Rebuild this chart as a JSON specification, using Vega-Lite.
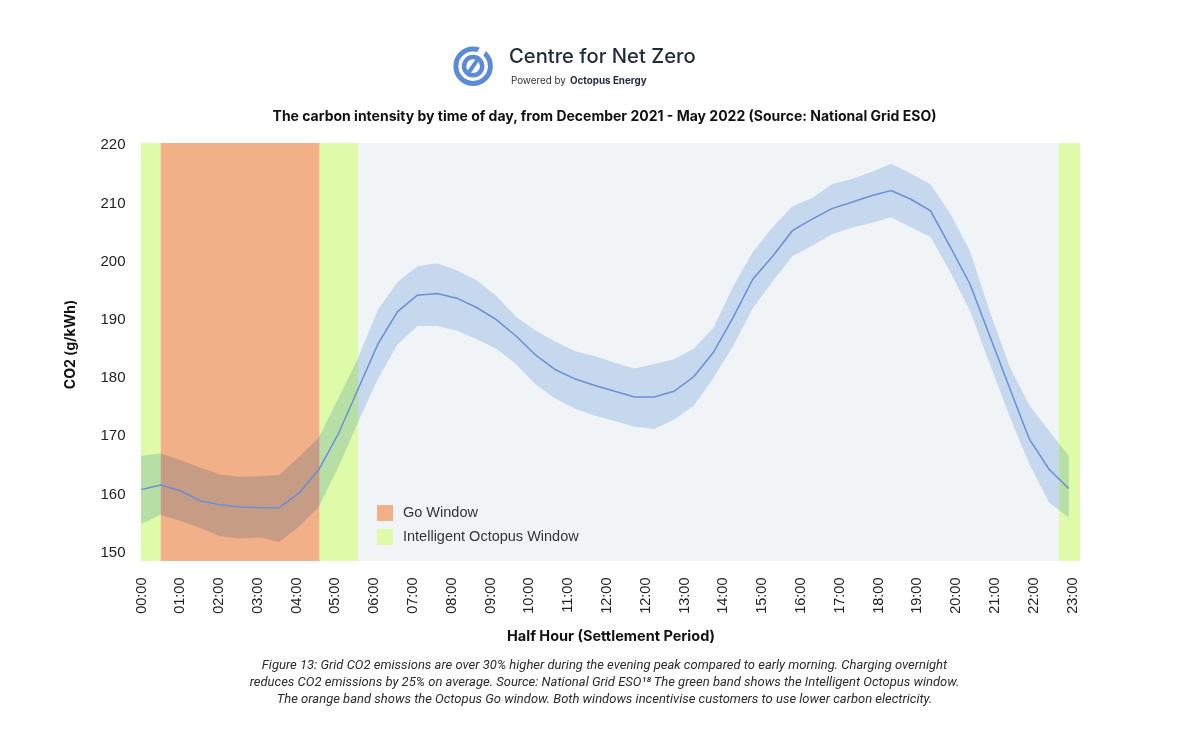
{
  "$schema": "https://vega.github.io/schema/vega-lite/v6.json",
  "background": "white",
  "padding": {"left": 63, "top": 38, "right": 10, "bottom": 10},
  "config": {
    "view": {"stroke": null},
    "font": "Liberation Sans",
    "axisX": {"labelOverlap": false, "labelFlush": false}
  },
  "spacing": 12,
  "datasets": {
    "logo": [
      {"part": "ring", "x": 35.37, "y": 49.7}
    ],
    "slash": [
      {"x": 34.78, "y": 35.4, "x2": 35.96, "y2": 64.0}
    ],
    "gap": [
      {"x": 36.01, "y": 68.3, "x2": 36.59, "y2": 85.2}
    ],
    "bands": [
      {"start": 0, "end": 1, "window": "Intelligent Octopus Window"},
      {"start": 1, "end": 9.05, "window": "Go Window"},
      {"start": 9.05, "end": 11, "window": "Intelligent Octopus Window"},
      {"start": 46.5, "end": 47.57, "window": "Intelligent Octopus Window"}
    ],
    "intensity": [
      {"p": 0, "co2": 160.6, "lo": 154.7, "hi": 166.4},
      {"p": 1, "co2": 161.4, "lo": 156.3, "hi": 166.8},
      {"p": 2, "co2": 160.4, "lo": 155.2, "hi": 165.7},
      {"p": 3, "co2": 158.7, "lo": 154.0, "hi": 164.4},
      {"p": 4, "co2": 158.0, "lo": 152.6, "hi": 163.2},
      {"p": 5, "co2": 157.6, "lo": 152.2, "hi": 162.8},
      {"p": 6, "co2": 157.5, "lo": 152.4, "hi": 162.9},
      {"p": 7, "co2": 157.5, "lo": 151.6, "hi": 163.1},
      {"p": 8, "co2": 160.0, "lo": 154.2, "hi": 166.2},
      {"p": 9, "co2": 164.0, "lo": 157.6, "hi": 169.5},
      {"p": 10, "co2": 170.2, "lo": 164.5, "hi": 176.3},
      {"p": 11, "co2": 177.9, "lo": 172.2, "hi": 183.2},
      {"p": 12, "co2": 185.6, "lo": 179.6, "hi": 191.5},
      {"p": 13, "co2": 191.2, "lo": 185.6, "hi": 196.3},
      {"p": 14, "co2": 194.0, "lo": 188.7, "hi": 199.0},
      {"p": 15, "co2": 194.3, "lo": 188.7, "hi": 199.5},
      {"p": 16, "co2": 193.5, "lo": 187.9, "hi": 198.3},
      {"p": 17, "co2": 191.9, "lo": 186.5, "hi": 196.6},
      {"p": 18, "co2": 189.8, "lo": 184.8, "hi": 193.9},
      {"p": 19, "co2": 187.0, "lo": 182.2, "hi": 190.3},
      {"p": 20, "co2": 183.7, "lo": 178.6, "hi": 187.9},
      {"p": 21, "co2": 181.2, "lo": 176.2, "hi": 186.0},
      {"p": 22, "co2": 179.6, "lo": 174.5, "hi": 184.4},
      {"p": 23, "co2": 178.5, "lo": 173.3, "hi": 183.5},
      {"p": 24, "co2": 177.5, "lo": 172.4, "hi": 182.4},
      {"p": 25, "co2": 176.5, "lo": 171.4, "hi": 181.4},
      {"p": 26, "co2": 176.5, "lo": 171.0, "hi": 182.2},
      {"p": 27, "co2": 177.5, "lo": 172.6, "hi": 183.0},
      {"p": 28, "co2": 180.0, "lo": 175.0, "hi": 184.8},
      {"p": 29, "co2": 184.2, "lo": 179.8, "hi": 188.4},
      {"p": 30, "co2": 190.2, "lo": 185.3, "hi": 195.5},
      {"p": 31, "co2": 196.8, "lo": 191.8, "hi": 201.5},
      {"p": 32, "co2": 200.7, "lo": 196.4, "hi": 205.7},
      {"p": 33, "co2": 205.1, "lo": 200.7, "hi": 209.3},
      {"p": 34, "co2": 207.1, "lo": 202.5, "hi": 210.7},
      {"p": 35, "co2": 208.9, "lo": 204.5, "hi": 213.1},
      {"p": 36, "co2": 210.0, "lo": 205.6, "hi": 214.0},
      {"p": 37, "co2": 211.1, "lo": 206.4, "hi": 215.2},
      {"p": 38, "co2": 212.0, "lo": 207.4, "hi": 216.6},
      {"p": 39, "co2": 210.5, "lo": 205.7, "hi": 214.9},
      {"p": 40, "co2": 208.5, "lo": 204.0, "hi": 213.1},
      {"p": 41, "co2": 202.3, "lo": 198.0, "hi": 208.0},
      {"p": 42, "co2": 195.9, "lo": 191.3, "hi": 201.6},
      {"p": 43, "co2": 187.0, "lo": 182.2, "hi": 191.2},
      {"p": 44, "co2": 178.1, "lo": 173.2, "hi": 181.8},
      {"p": 45, "co2": 169.3, "lo": 165.0, "hi": 175.1},
      {"p": 46, "co2": 164.1, "lo": 158.4, "hi": 170.7},
      {"p": 47, "co2": 160.8, "lo": 155.8, "hi": 166.4}
    ]
  },
  "vconcat": [
    {
      "width": 939,
      "height": 56,
      "view": {"stroke": null, "fill": null},
      "title": {
        "text": "The carbon intensity by time of day, from December 2021 - May 2022 (Source: National Grid ESO)",
        "orient": "bottom",
        "anchor": "middle",
        "font": "Inter",
        "fontSize": 14,
        "fontWeight": 700,
        "color": "#111111",
        "offset": 16,
        "dx": -6
      },
      "layer": [
        {
          "data": {"name": "logo"},
          "mark": {"type": "point", "shape": "circle", "filled": false, "size": 1190, "strokeWidth": 5, "color": "#5B8BD6", "opacity": 1},
          "encoding": {
            "x": {"field": "x", "type": "quantitative", "scale": {"domain": [0, 100], "nice": false}, "axis": null},
            "y": {"field": "y", "type": "quantitative", "scale": {"domain": [0, 100], "nice": false}, "axis": null}
          }
        },
        {
          "data": {"name": "gap"},
          "mark": {"type": "rule", "color": "white", "strokeWidth": 7},
          "encoding": {
            "x": {"field": "x", "type": "quantitative"},
            "y": {"field": "y", "type": "quantitative"},
            "x2": {"field": "x2"},
            "y2": {"field": "y2"}
          }
        },
        {
          "data": {"name": "logo"},
          "mark": {"type": "point", "shape": "circle", "filled": false, "size": 330, "strokeWidth": 4.5, "color": "#5B8BD6", "opacity": 1},
          "encoding": {
            "x": {"field": "x", "type": "quantitative"},
            "y": {"field": "y", "type": "quantitative"}
          }
        },
        {
          "data": {"name": "slash"},
          "mark": {"type": "rule", "color": "#5B8BD6", "strokeWidth": 4},
          "encoding": {
            "x": {"field": "x", "type": "quantitative"},
            "y": {"field": "y", "type": "quantitative"},
            "x2": {"field": "x2"},
            "y2": {"field": "y2"}
          }
        },
        {
          "data": {"values": [{"x": 39.19, "y": 65.5, "label": "Centre for Net Zero"}]},
          "mark": {"type": "text", "align": "left", "baseline": "middle", "font": "Inter", "fontSize": 20.2, "fontWeight": 500, "color": "#1F2A3C"},
          "encoding": {
            "x": {"field": "x", "type": "quantitative"},
            "y": {"field": "y", "type": "quantitative"},
            "text": {"field": "label"}
          }
        },
        {
          "data": {"values": [{"x": 39.4, "y": 23, "label": "Powered by"}]},
          "mark": {"type": "text", "align": "left", "baseline": "middle", "font": "Inter", "fontSize": 9.8, "fontWeight": 400, "color": "#333333"},
          "encoding": {
            "x": {"field": "x", "type": "quantitative"},
            "y": {"field": "y", "type": "quantitative"},
            "text": {"field": "label"}
          }
        },
        {
          "data": {"values": [{"x": 45.69, "y": 23, "label": "Octopus Energy"}]},
          "mark": {"type": "text", "align": "left", "baseline": "middle", "font": "Inter", "fontSize": 9.8, "fontWeight": 700, "color": "#1F2A3C"},
          "encoding": {
            "x": {"field": "x", "type": "quantitative"},
            "y": {"field": "y", "type": "quantitative"},
            "text": {"field": "label"}
          }
        }
      ]
    },
    {
      "width": 939,
      "height": 418,
      "view": {"fill": "#F1F4F6", "stroke": null},
      "title": {
        "text": [
          "Figure 13: Grid CO2 emissions are over 30% higher during the evening peak compared to early morning. Charging overnight",
          "reduces CO2 emissions by 25% on average. Source: National Grid ESO¹⁸ The green band shows the Intelligent Octopus window.",
          "The orange band shows the Octopus Go window. Both windows incentivise customers to use lower carbon electricity."
        ],
        "orient": "bottom",
        "anchor": "middle",
        "font": "Roboto",
        "fontSize": 13,
        "fontStyle": "italic",
        "fontWeight": 400,
        "lineHeight": 17,
        "color": "#2B2B2B",
        "offset": 16,
        "dx": -6
      },
      "layer": [
        {
          "data": {"name": "bands"},
          "mark": {"type": "rect", "opacity": 1},
          "encoding": {
            "x": {
              "field": "start",
              "type": "quantitative",
              "scale": {"domain": [0, 47.57], "nice": false, "zero": false},
              "title": "Half Hour (Settlement Period)",
              "axis": {
                "values": [0, 1.9656, 3.9312, 5.8968, 7.8624, 9.828, 11.7936, 13.7592, 15.7248, 17.6904, 19.656, 21.6216, 23.5872, 25.5528, 27.5184, 29.484, 31.4496, 33.4152, 35.3808, 37.3464, 39.312, 41.2776, 43.2432, 45.2088, 47.1744],
                "labelExpr": "(datum.value < 19 ? '0' : '') + (round(datum.value / 1.9656) - (datum.value > 24 ? 1 : 0)) + ':00'",
                "labelAngle": -90,
                "labelFont": "Liberation Sans",
                "labelFontSize": 14.5,
                "labelColor": "#222222",
                "labelPadding": 16,
                "labelFlush": false,
                "labelOverlap": false,
                "ticks": false,
                "domain": false,
                "grid": false,
                "titleFont": "Inter",
                "titleFontSize": 14.5,
                "titleFontWeight": 700,
                "titleColor": "#111111",
                "titlePadding": 16
              }
            },
            "x2": {"field": "end"},
            "color": {
              "field": "window",
              "type": "nominal",
              "scale": {"domain": ["Go Window", "Intelligent Octopus Window"], "range": ["#F2B089", "#DEFBAA"]},
              "legend": {
                "orient": "none",
                "legendX": 236,
                "legendY": 467,
                "title": null,
                "symbolType": "square",
                "symbolSize": 256,
                "symbolOpacity": 1,
                "symbolStrokeWidth": 0,
                "labelFont": "Liberation Sans",
                "labelFontSize": 14.5,
                "labelColor": "#333333",
                "labelOffset": 10,
                "labelLimit": 400,
                "rowPadding": 8,
                "padding": 0
              }
            }
          }
        },
        {
          "data": {"name": "intensity"},
          "mark": {"type": "area", "color": "#D2E2F7", "opacity": 1, "blend": "multiply"},
          "encoding": {
            "x": {
              "field": "p",
              "type": "quantitative",
              "title": "Half Hour (Settlement Period)",
              "axis": {
                "values": [0, 1.9656, 3.9312, 5.8968, 7.8624, 9.828, 11.7936, 13.7592, 15.7248, 17.6904, 19.656, 21.6216, 23.5872, 25.5528, 27.5184, 29.484, 31.4496, 33.4152, 35.3808, 37.3464, 39.312, 41.2776, 43.2432, 45.2088, 47.1744],
                "labelOverlap": false
              }
            },
            "y": {
              "field": "lo",
              "type": "quantitative",
              "scale": {"domain": [148.33, 220.17], "nice": false, "zero": false},
              "title": "CO2 (g/kWh)",
              "axis": {
                "values": [150, 160, 170, 180, 190, 200, 210, 220],
                "labelFont": "Liberation Sans",
                "labelFontSize": 15,
                "labelColor": "#222222",
                "labelPadding": 16,
                "ticks": false,
                "domain": false,
                "grid": false,
                "titleFont": "Inter",
                "titleFontSize": 14,
                "titleFontWeight": 700,
                "titleColor": "#111111",
                "titlePadding": 22,
                "titleY": 201
              }
            },
            "y2": {"field": "hi"}
          }
        },
        {
          "data": {"name": "intensity"},
          "mark": {"type": "line", "color": "#6A8FD5", "strokeWidth": 1.5},
          "encoding": {
            "x": {
              "field": "p",
              "type": "quantitative",
              "title": "Half Hour (Settlement Period)",
              "axis": {
                "values": [0, 1.9656, 3.9312, 5.8968, 7.8624, 9.828, 11.7936, 13.7592, 15.7248, 17.6904, 19.656, 21.6216, 23.5872, 25.5528, 27.5184, 29.484, 31.4496, 33.4152, 35.3808, 37.3464, 39.312, 41.2776, 43.2432, 45.2088, 47.1744],
                "labelOverlap": false
              }
            },
            "y": {"field": "co2", "type": "quantitative", "title": "CO2 (g/kWh)"}
          }
        }
      ]
    }
  ]
}
